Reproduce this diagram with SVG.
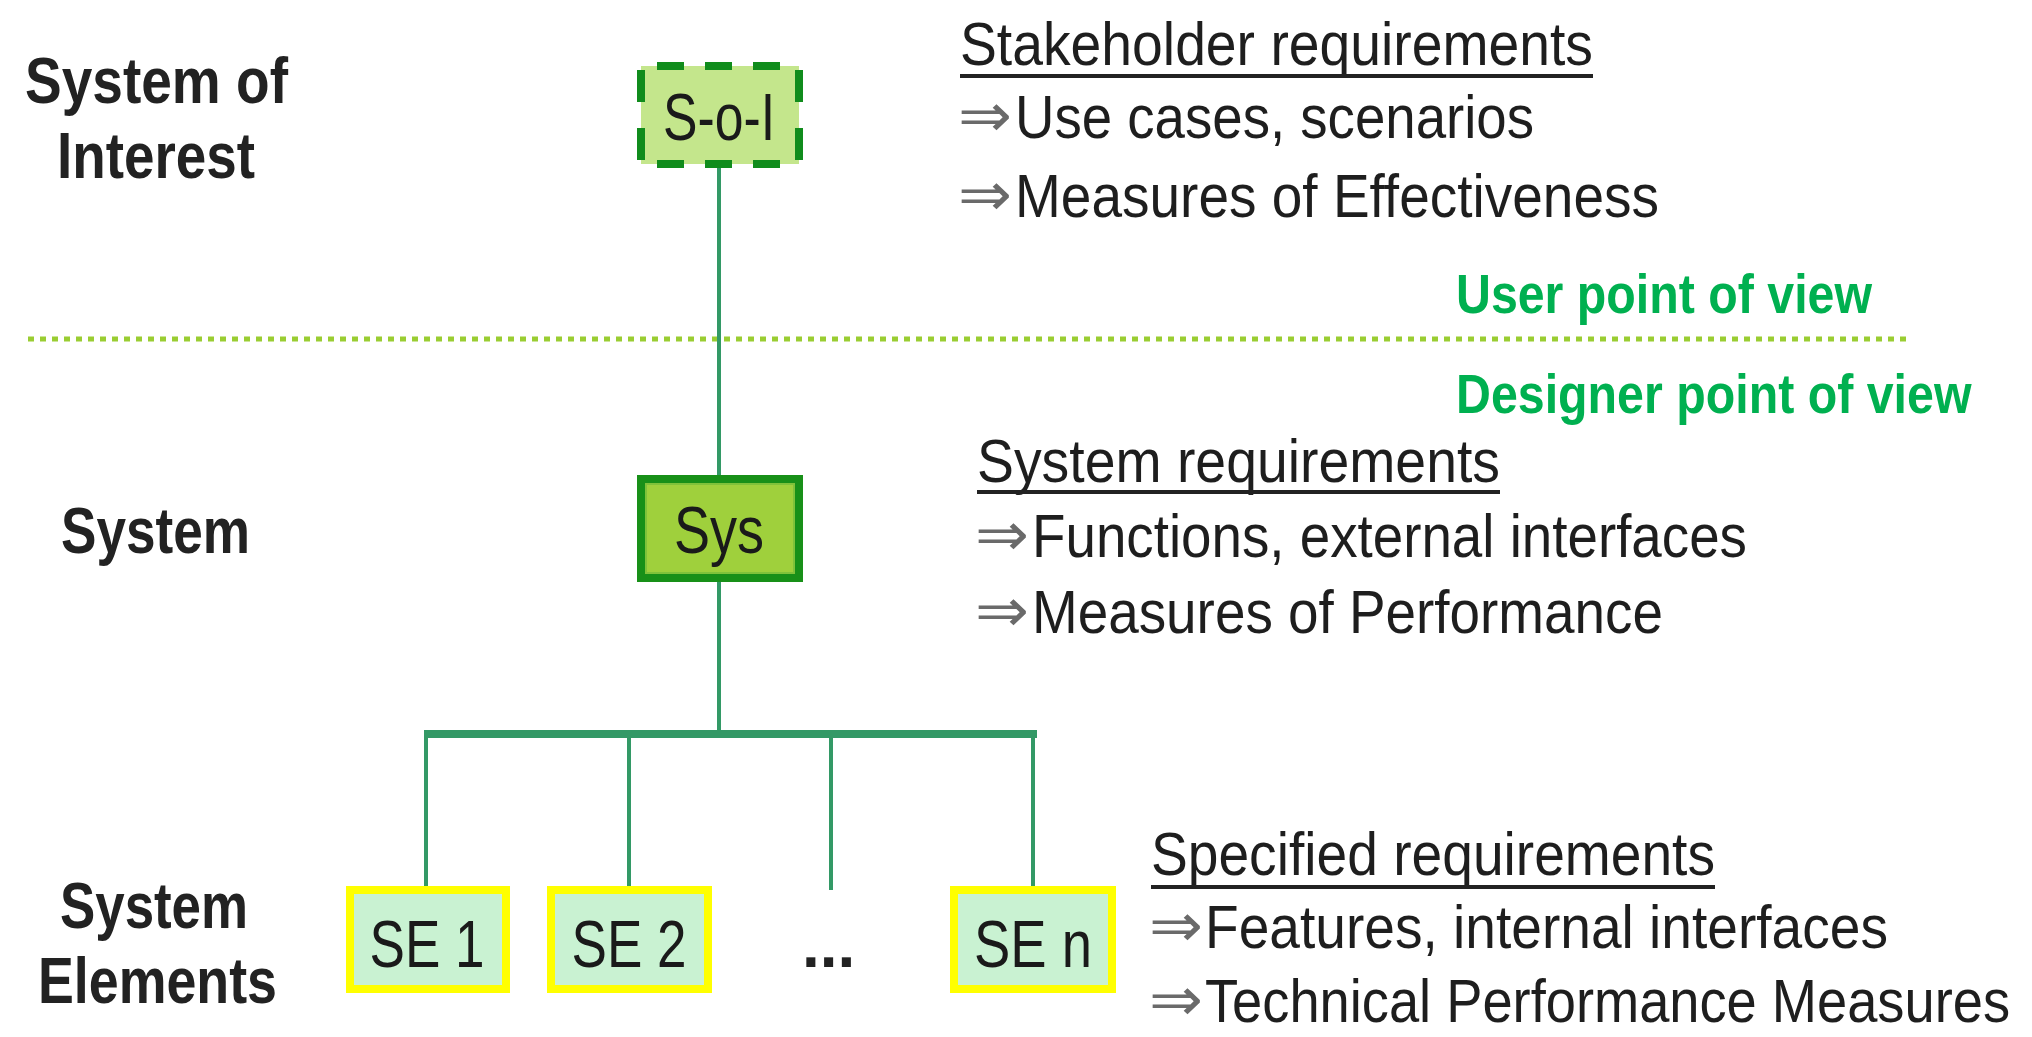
<svg xmlns="http://www.w3.org/2000/svg" width="2032" height="1037" viewBox="0 0 2032 1037">
<style>
.lbl{font-family:"Liberation Sans",Arial,sans-serif;font-weight:bold;font-size:64px;fill:#222;}
.body{font-family:"Liberation Sans",Arial,sans-serif;font-size:62px;fill:#1e1e1e;}
.arr{font-family:"DejaVu Sans",sans-serif;font-size:60px;fill:#6a6a6a;}
.green{font-family:"Liberation Sans",Arial,sans-serif;font-weight:bold;font-size:56px;fill:#00b050;}
.box{font-family:"Liberation Sans",Arial,sans-serif;font-size:66px;fill:#1a1a1a;text-anchor:middle;}
.conn{stroke:#339966;stroke-width:4;fill:none;}
.bus{stroke:#339966;stroke-width:8;fill:none;}
.ul{stroke:#222;stroke-width:4;}
.se{fill:#c9f2d2;stroke:#ffff00;stroke-width:8;}
</style>
<rect width="2032" height="1037" fill="#ffffff"/>

<g id="left-labels">
<text class="lbl" x="25" y="103" textLength="263" lengthAdjust="spacingAndGlyphs">System of</text>
<text class="lbl" x="57" y="178" textLength="198" lengthAdjust="spacingAndGlyphs">Interest</text>
<text class="lbl" x="61" y="553" textLength="189" lengthAdjust="spacingAndGlyphs">System</text>
<text class="lbl" x="60" y="928" textLength="188" lengthAdjust="spacingAndGlyphs">System</text>
<text class="lbl" x="38" y="1003" textLength="239" lengthAdjust="spacingAndGlyphs">Elements</text>
</g>

<g id="divider">
<line x1="28" y1="339" x2="1910" y2="339" stroke="#9acd32" stroke-width="5" stroke-dasharray="6 6"/>
<text class="green" x="1456" y="313" textLength="416" lengthAdjust="spacingAndGlyphs">User point of view</text>
<text class="green" transform="translate(1456,413) scale(0.863,1)" x="0" y="0">Designer point of view</text>
</g>

<g id="connectors">
<line class="conn" x1="719" y1="168" x2="719" y2="475"/>
<line class="conn" x1="719" y1="582" x2="719" y2="734"/>
<line class="bus" x1="424" y1="734" x2="1037" y2="734"/>
<line class="conn" x1="426" y1="734" x2="426" y2="886"/>
<line class="conn" x1="629" y1="734" x2="629" y2="886"/>
<line class="conn" x1="831" y1="734" x2="831" y2="890"/>
<line class="conn" x1="1033" y1="734" x2="1033" y2="886"/>
</g>

<g id="node-soi">
<rect x="641" y="66" width="158" height="98" fill="#c4e68c"/>
<g stroke="#108c1c" stroke-width="8">
<line x1="641" y1="66" x2="799" y2="66" stroke-dasharray="27 21" stroke-dashoffset="32"/>
<line x1="641" y1="164" x2="799" y2="164" stroke-dasharray="27 21" stroke-dashoffset="32"/>
<line x1="641" y1="66" x2="641" y2="164" stroke-dasharray="32 26" stroke-dashoffset="54"/>
<line x1="799" y1="66" x2="799" y2="164" stroke-dasharray="32 26" stroke-dashoffset="54"/>
</g>
<text class="box" x="719" y="140" textLength="112" lengthAdjust="spacingAndGlyphs">S-o-I</text>
</g>

<g id="node-sys">
<rect x="641" y="479" width="158" height="99" fill="#9fd03c" stroke="#189018" stroke-width="8"/>
<rect x="646" y="484" width="148" height="89" fill="none" stroke="#7fc23a" stroke-width="2"/>
<text class="box" x="719" y="553" textLength="90" lengthAdjust="spacingAndGlyphs">Sys</text>
</g>

<g id="node-se1">
<rect class="se" x="350" y="890" width="156" height="99"/>
<text class="box" x="427" y="967" textLength="115" lengthAdjust="spacingAndGlyphs">SE 1</text>
</g>
<g id="node-se2">
<rect class="se" x="551" y="890" width="157" height="99"/>
<text class="box" x="629" y="967" textLength="115" lengthAdjust="spacingAndGlyphs">SE 2</text>
</g>
<g id="node-ellipsis">
<text class="lbl" x="802" y="967" fill="#111">...</text>
</g>
<g id="node-sen">
<rect class="se" x="954" y="890" width="158" height="99"/>
<text class="box" x="1033" y="967" textLength="118" lengthAdjust="spacingAndGlyphs">SE n</text>
</g>

<g id="stakeholder-req">
<text class="body" x="960" y="65" textLength="633" lengthAdjust="spacingAndGlyphs">Stakeholder requirements</text>
<line class="ul" x1="960" y1="76" x2="1593" y2="76"/>
<text class="arr" x="958" y="136" textLength="54" lengthAdjust="spacingAndGlyphs">⇒</text>
<text class="body" x="1015" y="138" textLength="519" lengthAdjust="spacingAndGlyphs">Use cases, scenarios</text>
<text class="arr" x="958" y="215" textLength="54" lengthAdjust="spacingAndGlyphs">⇒</text>
<text class="body" x="1015" y="217" textLength="644" lengthAdjust="spacingAndGlyphs">Measures of Effectiveness</text>
</g>

<g id="system-req">
<text class="body" x="977" y="482" textLength="523" lengthAdjust="spacingAndGlyphs">System requirements</text>
<line class="ul" x1="977" y1="492" x2="1500" y2="492"/>
<text class="arr" x="975" y="555" textLength="54" lengthAdjust="spacingAndGlyphs">⇒</text>
<text class="body" x="1032" y="557" textLength="715" lengthAdjust="spacingAndGlyphs">Functions, external interfaces</text>
<text class="arr" x="975" y="631" textLength="54" lengthAdjust="spacingAndGlyphs">⇒</text>
<text class="body" x="1032" y="633" textLength="631" lengthAdjust="spacingAndGlyphs">Measures of Performance</text>
</g>

<g id="specified-req">
<text class="body" x="1151" y="875" textLength="564" lengthAdjust="spacingAndGlyphs">Specified requirements</text>
<line class="ul" x1="1151" y1="887" x2="1715" y2="887"/>
<text class="arr" x="1149" y="946" textLength="54" lengthAdjust="spacingAndGlyphs">⇒</text>
<text class="body" x="1205" y="948" textLength="683" lengthAdjust="spacingAndGlyphs">Features, internal interfaces</text>
<text class="arr" x="1149" y="1020" textLength="54" lengthAdjust="spacingAndGlyphs">⇒</text>
<text class="body" transform="translate(1205,1022) scale(0.875,1)" x="0" y="0">Technical Performance Measures</text>
</g>
</svg>
